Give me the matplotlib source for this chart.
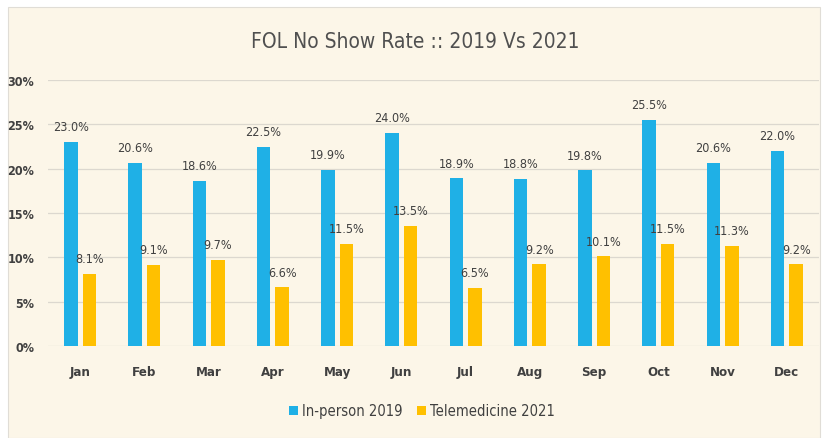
import matplotlib
matplotlib.use("Agg")
import matplotlib.pyplot as plt
import numpy as np
from matplotlib.patches import Rectangle

months = ["Jan", "Feb", "Mar", "Apr", "May", "Jun", "Jul", "Aug", "Sep", "Oct", "Nov", "Dec"]
inperson_2019 = [23.0, 20.6, 18.6, 22.5, 19.9, 24.0, 18.9, 18.8, 19.8, 25.5, 20.6, 22.0]
telemed_2021 = [8.1, 9.1, 9.7, 6.6, 11.5, 13.5, 6.5, 9.2, 10.1, 11.5, 11.3, 9.2]
yticks = [0, 5, 10, 15, 20, 25, 30]
title = "FOL No Show Rate :: 2019 Vs 2021"
series_names = ["In-person 2019", "Telemedicine 2021"]

W, H = 827, 439
plt.rcParams['font.family'] = ['DejaVu Sans']
plt.rcParams['font.stretch'] = 'condensed'
fig = plt.figure(figsize=(W / 100, H / 100), dpi=100)
fig.patch.set_facecolor("white")
cream = "#FCF6E8"
bg = Rectangle((8 / W, 0), (820 - 8) / W, (H - 8) / H, transform=fig.transFigure,
               facecolor=cream, edgecolor="#E0DDD6", linewidth=0.8, zorder=-10)
fig.patches.append(bg)

ax = fig.add_axes([48 / W, (H - 347) / H, (819 - 48) / W, (347 - 81) / H])
ax.set_zorder(1)
ax.set_facecolor("none")
x = np.arange(len(months))
bw = 0.21
off = 0.145
blue = "#1FB0E6"
yellow = "#FFC000"
b1 = ax.bar(x - off, inperson_2019, bw, color=blue, label=series_names[0], zorder=3)
b2 = ax.bar(x + off, telemed_2021, bw, color=yellow, label=series_names[1], zorder=3)
txtc = "#404040"
for xi, v in zip(x - off, inperson_2019):
    ax.text(xi, v + 1.0, f"{v:.1f}%", ha="center", va="bottom", fontsize=9, color=txtc)
for xi, v in zip(x + off, telemed_2021):
    ax.text(xi, v + 1.0, f"{v:.1f}%", ha="center", va="bottom", fontsize=9, color=txtc)

ax.set_xlim(-0.5, len(months) - 0.5)
ax.set_ylim(0, 30)
ax.set_yticks(yticks)
ax.set_yticklabels([f"{t}%" for t in yticks], fontsize=9, color=txtc, fontweight="bold")
ax.set_xticks(x)
ax.set_xticklabels(months, fontsize=9.5, color=txtc, fontweight="bold")
ax.tick_params(axis="both", length=0)
ax.tick_params(axis="x", pad=14)
ax.tick_params(axis="y", pad=10)
ax.yaxis.grid(True, color="#DCD8CF", linewidth=0.9, zorder=0)
ax.set_axisbelow(True)
for s in ax.spines.values():
    s.set_visible(False)

fig.text(415 / W, 1 - 42 / H, title, ha="center", va="center", fontsize=15, color="#505050")
fig.legend(handles=[b1, b2], loc="center", bbox_to_anchor=(422 / W, 1 - 412 / H), ncol=2,
           frameon=False, fontsize=10.5, handlelength=0.6, handleheight=0.6, handletextpad=0.3,
           columnspacing=1.0, labelcolor=txtc)

fig.savefig("out.png", dpi=100, facecolor="white")
